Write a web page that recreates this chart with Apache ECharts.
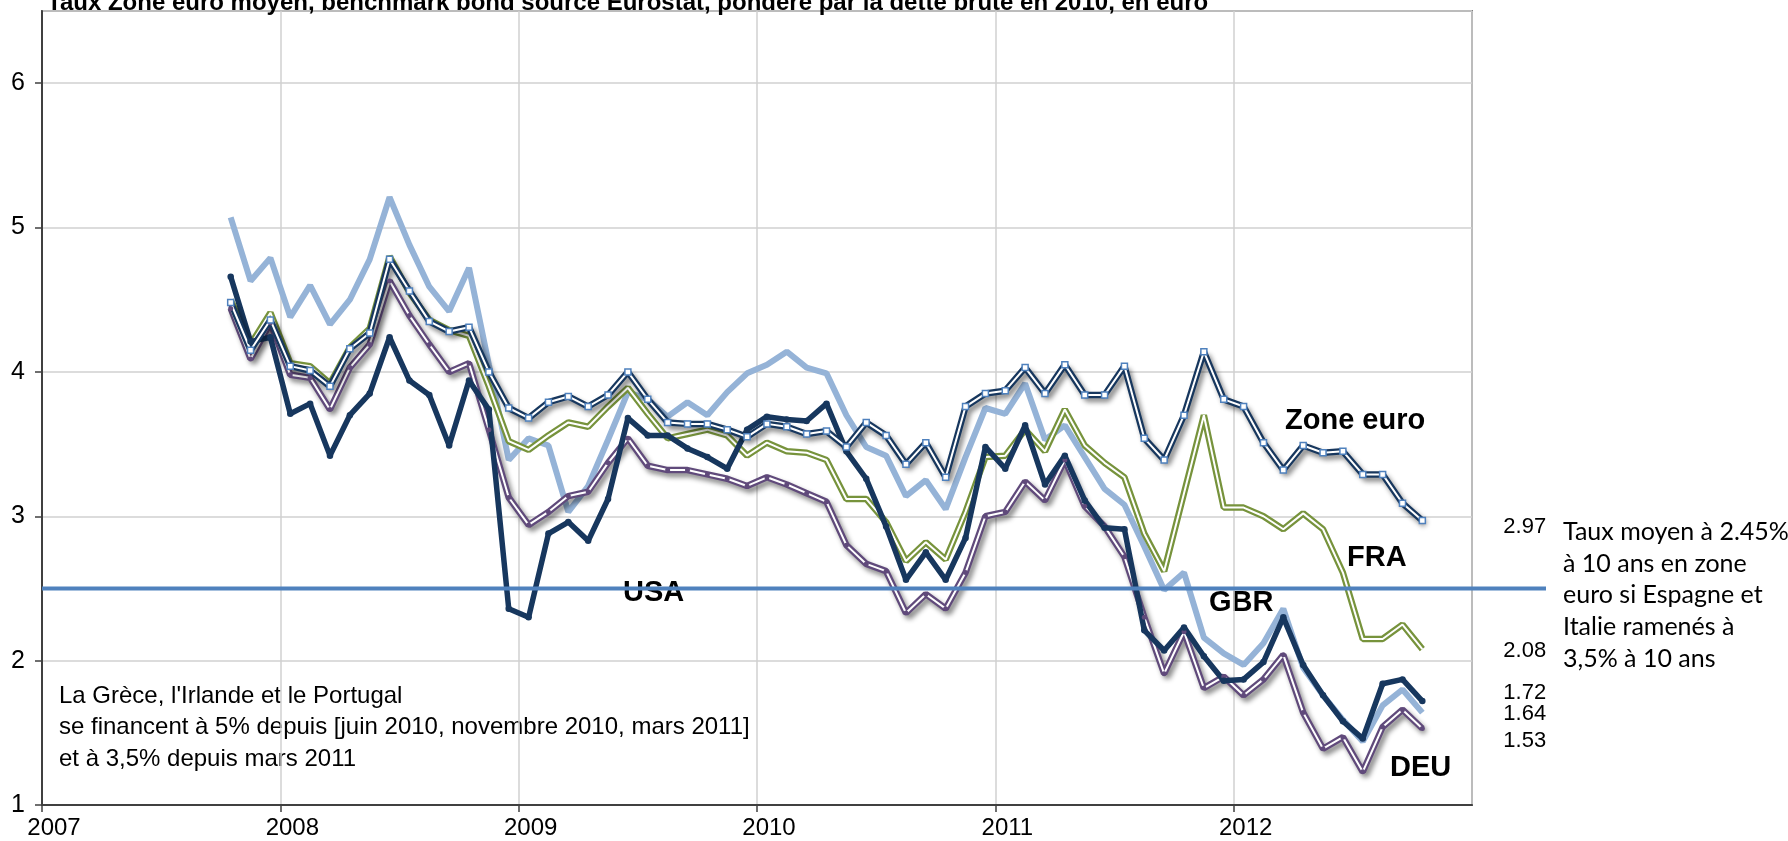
<!DOCTYPE html>
<html>
<head>
<meta charset="utf-8">
<title>Taux zone euro</title>
<script src="https://cdn.jsdelivr.net/npm/echarts@6/dist/echarts.min.js"></script>
<style>
  html, body { margin: 0; padding: 0; background: #fff; }
  #main { width: 1788px; height: 841px; }
</style>
</head>
<body>
<div id="main"></div>
<script>
const chart = echarts.init(document.getElementById("main"));

// ********
// * Data *
// ********

// Monthly points, October 2007 to October 2012
const firstYear = 2007;
const firstMonth = 10;

// 10-year yields, in %
const zoneEuro = [4.48, 4.15, 4.36, 4.04, 4.01, 3.90, 4.16, 4.27, 4.78, 4.56, 4.35, 4.28,
  4.31, 4.00, 3.75, 3.68, 3.79, 3.83, 3.76, 3.84, 4.00, 3.81, 3.65, 3.64,
  3.64, 3.60, 3.55, 3.64, 3.62, 3.57, 3.59, 3.48, 3.65, 3.56, 3.36, 3.51,
  3.27, 3.76, 3.85, 3.87, 4.03, 3.85, 4.05, 3.84, 3.84, 4.04, 3.54, 3.39,
  3.70, 4.14, 3.81, 3.76, 3.51, 3.32, 3.49, 3.44, 3.45, 3.29, 3.29, 3.09, 2.97];
const fra = [4.50, 4.19, 4.41, 4.06, 4.04, 3.92, 4.17, 4.30, 4.80, 4.55, 4.36, 4.29,
  4.25, 3.90, 3.52, 3.46, 3.56, 3.65, 3.62, 3.76, 3.89, 3.71, 3.54, 3.57,
  3.60, 3.56, 3.42, 3.51, 3.45, 3.44, 3.39, 3.12, 3.12, 2.96, 2.69, 2.82,
  2.70, 3.03, 3.41, 3.42, 3.60, 3.45, 3.74, 3.49, 3.37, 3.27, 2.88, 2.62,
  3.16, 3.70, 3.06, 3.06, 3.00, 2.91, 3.02, 2.91, 2.61, 2.15, 2.15, 2.25, 2.08];
const gbr = [5.07, 4.63, 4.79, 4.38, 4.60, 4.33, 4.50, 4.78, 5.21, 4.88, 4.59, 4.42,
  4.72, 4.05, 3.39, 3.54, 3.49, 3.03, 3.21, 3.53, 3.86, 3.81, 3.69, 3.79,
  3.70, 3.86, 3.99, 4.05, 4.14, 4.03, 3.99, 3.70, 3.48, 3.42, 3.14, 3.25,
  3.05, 3.41, 3.75, 3.71, 3.92, 3.53, 3.63, 3.41, 3.19, 3.08, 2.79, 2.49,
  2.61, 2.16, 2.05, 1.97, 2.12, 2.36, 1.95, 1.76, 1.59, 1.44, 1.69, 1.80, 1.64];
const usa = [4.66, 4.21, 4.24, 3.71, 3.78, 3.42, 3.70, 3.85, 4.24, 3.94, 3.84, 3.49,
  3.94, 3.74, 2.36, 2.30, 2.88, 2.96, 2.83, 3.12, 3.68, 3.56, 3.56, 3.47,
  3.41, 3.33, 3.60, 3.69, 3.67, 3.66, 3.78, 3.45, 3.26, 2.93, 2.56, 2.75,
  2.56, 2.85, 3.48, 3.33, 3.63, 3.22, 3.42, 3.11, 2.92, 2.91, 2.21, 2.07,
  2.23, 2.03, 1.86, 1.87, 1.99, 2.30, 1.97, 1.76, 1.58, 1.46, 1.84, 1.87, 1.72];
const deu = [4.44, 4.09, 4.34, 3.98, 3.96, 3.74, 4.03, 4.19, 4.63, 4.39, 4.19, 4.00,
  4.06, 3.60, 3.13, 2.94, 3.03, 3.14, 3.17, 3.37, 3.54, 3.35, 3.32, 3.32,
  3.29, 3.26, 3.21, 3.27, 3.22, 3.16, 3.10, 2.80, 2.67, 2.62, 2.33, 2.46,
  2.36, 2.61, 3.00, 3.03, 3.24, 3.11, 3.39, 3.07, 2.93, 2.72, 2.30, 1.91,
  2.20, 1.81, 1.89, 1.76, 1.87, 2.04, 1.64, 1.39, 1.47, 1.23, 1.54, 1.66, 1.53];

// Average rate line if Spain and Italy were brought back to 3.5%
// (the line runs a little past the plot, up to the side note)
const refRate = 2.5;
const refStart = 2007;
const refEnd = 2013.31;

const yearTicks = [2007, 2008, 2009, 2010, 2011, 2012, 2013];

const titleText = "Taux Zone euro moyen, benchmark bond source Eurostat, pondéré par la dette brute en 2010, en euro";
const noteLines = [
  "La Grèce, l'Irlande et le Portugal",
  "se financent à 5% depuis [juin 2010, novembre 2010, mars 2011]",
  "et à 3,5% depuis mars 2011",
];
const refLines = [
  "Taux moyen à 2.45%",
  "à 10 ans en zone",
  "euro si Espagne et",
  "Italie ramenés à",
  "3,5% à 10 ans",
];

// *************
// * Functions *
// *************

// Position of month i on the year axis (middle of the month)
function monthX(i) {
  const m = firstMonth - 1 + i;
  return firstYear + Math.floor(m / 12) + ((m % 12) + 0.5) / 12;
}

function pairs(values) {
  return values.map((v, i) => [monthX(i), v]);
}

const colors = {
  navy: "#17375E",
  lightBlue: "#95B3D7",
  green: "#77933C",
  purple: "#604A7B",
  ref: "#4F81BD",
};

const shadow = {
  shadowColor: "rgba(0, 0, 0, 0.45)",
  shadowBlur: 5,
  shadowOffsetX: 3,
  shadowOffsetY: 4,
};

const arial = "'Liberation Sans', Arial, sans-serif";
const arialNarrow = "'Liberation Sans Narrow', 'Arial Narrow', 'Liberation Sans', sans-serif";

const endLabelStyle = (dy) => ({
  show: true,
  formatter: (p) => p.value[1].toFixed(2),
  color: "#000",
  fontFamily: arial,
  fontSize: 22,
  distance: 5,
  offset: [76, dy],
});

function lineSeries(name, values, opts) {
  return Object.assign({
    name: name,
    type: "line",
    data: pairs(values),
    symbol: "none",
    showAllSymbol: true,
    silent: true,
  }, opts);
}

function textEl(text, x, y, font) {
  return {
    type: "text",
    x: x,
    y: y,
    silent: true,
    style: {
      text: text,
      font: font,
      fill: "#000",
      verticalAlign: "middle",
    },
  };
}

const labelFont = "bold 29px " + arial;

const hiddenAxis = {
  show: false,
  axisLine: { show: false },
  axisTick: { show: false },
  axisLabel: { show: false },
  splitLine: { show: false },
};

const option = {
  backgroundColor: "#fff",
  animation: false,
  title: {
    text: titleText,
    left: 42,
    top: -14,
    textStyle: {
      fontFamily: arial,
      fontWeight: "bold",
      fontSize: 24,
      color: "#000",
    },
  },
  grid: [
    {
      left: 42,
      right: 316,
      top: 11,
      bottom: 36,
      show: true,
      borderColor: "#808080",
      borderWidth: 2,
    },
    // same plot, widened to the right for the reference line
    { left: 42, right: 242, top: 11, bottom: 36 },
  ],
  xAxis: [
    {
      type: "value",
      gridIndex: 0,
      min: yearTicks[0],
      max: yearTicks[yearTicks.length - 1],
      interval: 1,
      axisLine: { show: true, onZero: false, lineStyle: { color: "#404040", width: 2 } },
      axisTick: { show: true, length: 7, lineStyle: { color: "#404040", width: 1.5 } },
      splitLine: { show: true, lineStyle: { color: "#D0D0D0", width: 1.5 } },
      axisLabel: {
        showMaxLabel: false,
        color: "#000",
        fontFamily: arialNarrow,
        fontSize: 24,
        margin: 11,
        padding: [0, 0, 0, 24],
        formatter: (v) => String(v),
      },
    },
    Object.assign({ type: "value", gridIndex: 1, min: refStart, max: refEnd }, hiddenAxis),
  ],
  yAxis: [
    {
      type: "value",
      gridIndex: 0,
      min: 1,
      max: 6.5,
      interval: 1,
      axisLine: { show: true, lineStyle: { color: "#404040", width: 2 } },
      axisTick: { show: true, length: 7, lineStyle: { color: "#404040", width: 1.5 } },
      splitLine: { show: true, lineStyle: { color: "#D0D0D0", width: 1.5 } },
      axisLabel: {
        showMaxLabel: false,
        color: "#000",
        fontFamily: arialNarrow,
        fontSize: 25,
        margin: 17,
      },
    },
    Object.assign({ type: "value", gridIndex: 1, min: 1, max: 6.5 }, hiddenAxis),
  ],
  series: [
    lineSeries("GBR", gbr, {
      lineStyle: { color: colors.lightBlue, width: 6 },
      endLabel: endLabelStyle(1),
    }),
    lineSeries("FRA", fra, {
      lineStyle: { color: colors.green, width: 6.5 },
    }),
    lineSeries("FRA inner", fra, {
      lineStyle: { color: "#fff", width: 2 },
      endLabel: endLabelStyle(2),
    }),
    lineSeries("DEU", deu, {
      lineStyle: Object.assign({ color: colors.purple, width: 6.5 }, shadow),
    }),
    lineSeries("DEU inner", deu, {
      lineStyle: { color: "#fff", width: 2 },
      symbol: "circle",
      symbolSize: 5,
      itemStyle: { color: colors.purple },
      endLabel: endLabelStyle(12),
    }),
    lineSeries("USA", usa, {
      lineStyle: { color: colors.navy, width: 5.5 },
      symbol: "circle",
      symbolSize: 6.5,
      itemStyle: { color: colors.navy },
      endLabel: endLabelStyle(-8),
    }),
    lineSeries("Zone euro", zoneEuro, {
      lineStyle: Object.assign({ color: colors.navy, width: 6.5 }, shadow),
    }),
    lineSeries("Zone euro inner", zoneEuro, {
      lineStyle: { color: "#fff", width: 2 },
      symbol: "rect",
      symbolSize: 6,
      itemStyle: { color: "#fff", borderColor: colors.ref, borderWidth: 1.5 },
      endLabel: endLabelStyle(6),
    }),
    {
      name: "Taux moyen",
      type: "line",
      xAxisIndex: 1,
      yAxisIndex: 1,
      data: [[refStart, refRate], [refEnd, refRate]],
      symbol: "none",
      silent: true,
      lineStyle: { color: colors.ref, width: 4 },
    },
  ],
  graphic: [
    textEl("Zone euro", 1285, 421, labelFont),
    textEl("FRA", 1347, 558, labelFont),
    textEl("GBR", 1209, 603, labelFont),
    textEl("USA", 623, 593, labelFont),
    textEl("DEU", 1390, 768, labelFont),
  ]
    .concat(noteLines.map((t, i) => textEl(t, 59, 696 + i * 31.5, "24px " + arial)))
    .concat(refLines.map((t, i) => textEl(t, 1563, 532 + i * 31.7, "25px Lato, 'Open Sans', sans-serif"))),
};

chart.setOption(option);

addEventListener("resize", () => {
  chart.resize();
});
</script>
</body>
</html>
